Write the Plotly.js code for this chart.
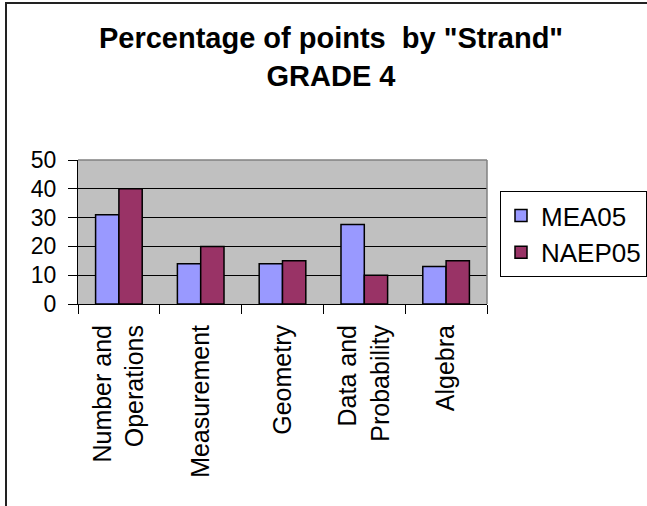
<!DOCTYPE html>
<html>
<head>
<meta charset="utf-8">
<script src="https://cdn.plot.ly/plotly-3.0.1.min.js"></script>
<style>
html,body{margin:0;padding:0;background:#fff;}
#chart{width:647px;height:506px;}
</style>
</head>
<body>
<div id="chart"></div>
<script>
var categories = ["Number and<br>Operations", "Measurement", "Geometry", "Data and<br>Probability", "Algebra"];
var seriesNames = ["MEA05", "NAEP05"];
var mea05 = [31, 14, 14, 27.6, 13];
var naep05 = [40, 20, 15, 10, 15];
var yTickVals = [0, 10, 20, 30, 40, 50];

var FONT = "Liberation Sans, Arial, sans-serif";
var L = 78, R = 160, T = 160, B = 202;
var W = 647 - L - R, H = 506 - T - B;
function px(x){ return (x - L) / W; }
function py(y){ return (506 - B - y) / H; }

var traces = [
  {type: "bar", name: seriesNames[0], x: categories, y: mea05,
   marker: {color: "#9999FF", line: {color: "#000000", width: 1.5}}},
  {type: "bar", name: seriesNames[1], x: categories, y: naep05,
   marker: {color: "#993366", line: {color: "#000000", width: 1.5}}}
];

var layout = {
  width: 647, height: 506,
  margin: {l: L, r: R, t: T, b: B, pad: 0, autoexpand: false},
  paper_bgcolor: "#ffffff",
  plot_bgcolor: "#C0C0C0",
  font: {family: FONT, color: "#000000"},
  title: {
    text: "<b>Percentage of points\u00a0 by \"Strand\"<br>GRADE 4</b>",
    font: {family: FONT, size: 29, color: "#000000"},
    xref: "container", yref: "container",
    x: 331 / 647, xanchor: "center",
    y: 1 - 48 / 506, yanchor: "top"
  },
  barmode: "group",
  bargap: 0.43,
  bargroupgap: 0,
  xaxis: {
    type: "category",
    showline: true, linecolor: "#000000", linewidth: 1,
    ticks: "outside", tickson: "boundaries", ticklen: 9, tickcolor: "#000000", tickwidth: 1,
    tickangle: -90,
    tickfont: {family: FONT, size: 25, color: "#000000"},
    ticklabelstandoff: 10,
    showgrid: false, zeroline: false, fixedrange: true
  },
  yaxis: {
    range: [0, 50],
    tickvals: yTickVals,
    ticktext: yTickVals.map(String),
    showline: true, linecolor: "#000000", linewidth: 1,
    ticks: "outside", ticklen: 9, tickcolor: "#000000", tickwidth: 1,
    tickfont: {family: FONT, size: 23, color: "#000000"},
    ticklabelstandoff: 7,
    showgrid: true, gridcolor: "#000000", gridwidth: 1,
    zeroline: false, fixedrange: true
  },
  showlegend: true,
  legend: {
    x: px(500), y: py(191), xanchor: "left", yanchor: "top",
    xref: "paper", yref: "paper",
    bgcolor: "#ffffff", bordercolor: "#000000", borderwidth: 1,
    font: {family: FONT, size: 26, color: "#000000"},
    itemwidth: 30,
    traceorder: "normal"
  },
  shapes: [
    {type: "line", xref: "paper", yref: "paper", x0: 0, x1: 1, y0: 1, y1: 1,
     line: {color: "#808080", width: 1.5}, layer: "above"},
    {type: "line", xref: "paper", yref: "paper", x0: 1, x1: 1, y0: 0, y1: 1,
     line: {color: "#808080", width: 1.5}, layer: "above"},
    {type: "rect", xref: "paper", yref: "paper", x0: px(6), x1: px(700), y0: py(3), y1: py(560),
     line: {color: "#222222", width: 2}, fillcolor: "rgba(0,0,0,0)", layer: "above"}
  ]
};

Plotly.newPlot("chart", traces, layout, {displayModeBar: false, staticPlot: true});
</script>
</body>
</html>
